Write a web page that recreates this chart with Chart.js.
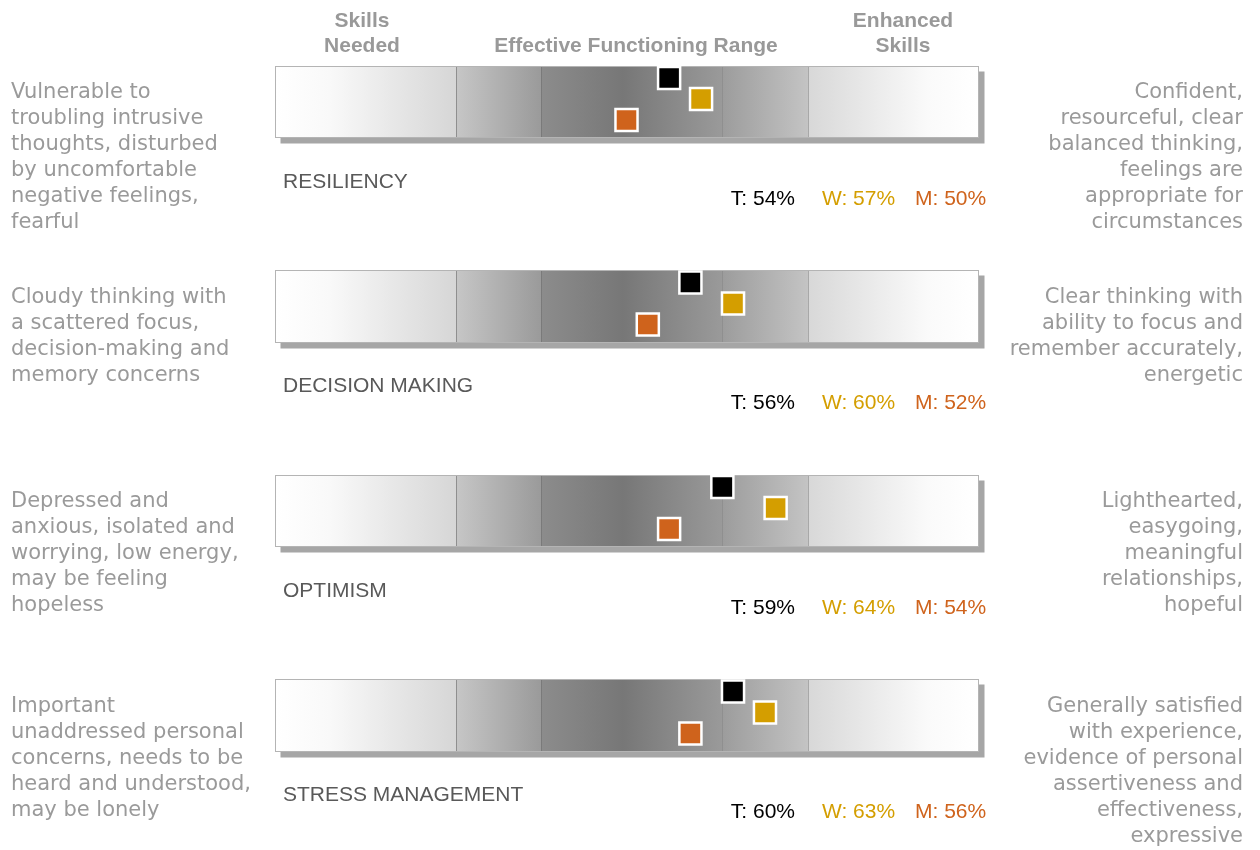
<!DOCTYPE html>
<html>
<head>
<meta charset="utf-8">
<script src="https://cdn.jsdelivr.net/npm/chart.js@4/dist/chart.umd.min.js"></script>
<style>
  html, body { margin: 0; padding: 0; background: #ffffff; }
  #wrap { width: 1260px; height: 850px; position: relative; }
</style>
</head>
<body>
<div id="wrap"><canvas id="chart" width="1260" height="850"></canvas></div>
<script>
// Scales and their scores (percent)
const scaleNames = ['RESILIENCY', 'DECISION MAKING', 'OPTIMISM', 'STRESS MANAGEMENT'];
const tScores = [54, 56, 59, 60];
const wScores = [57, 60, 64, 63];
const mScores = [50, 52, 54, 56];

// Band limits along the score axis
const bandEdges = [17, 34, 42, 59, 67, 83];

// Column headings
const headSkillsNeeded = ['Skills', 'Needed'];
const headRange = ['Effective Functioning Range'];
const headEnhanced = ['Enhanced', 'Skills'];

// Low-end and high-end descriptions for each scale
const lowText = [
  ['Vulnerable to', 'troubling intrusive', 'thoughts, disturbed', 'by uncomfortable', 'negative feelings,', 'fearful'],
  ['Cloudy thinking with', 'a scattered focus,', 'decision-making and', 'memory concerns'],
  ['Depressed and', 'anxious, isolated and', 'worrying, low energy,', 'may be feeling', 'hopeless'],
  ['Important', 'unaddressed personal', 'concerns, needs to be', 'heard and understood,', 'may be lonely']
];
const highText = [
  ['Confident,', 'resourceful, clear', 'balanced thinking,', 'feelings are', 'appropriate for', 'circumstances'],
  ['Clear thinking with', 'ability to focus and', 'remember accurately,', 'energetic'],
  ['Lighthearted,', 'easygoing,', 'meaningful', 'relationships,', 'hopeful'],
  ['Generally satisfied', 'with experience,', 'evidence of personal', 'assertiveness and', 'effectiveness,', 'expressive']
];

const COL_T = '#000000';
const COL_W = '#d49e00';
const COL_M = '#cf631c';

// Vertical layout inside each row (row units)
const BAR_TOP = 0.3227, BAR_BOT = 0.670;
const OFF_T = 0.381, OFF_W = 0.484, OFF_M = 0.587;

const bandStops = [
  [[0, '#ffffff'], [0.3, '#f9f9f9'], [1, '#d6d6d6']],
  [[0, '#c6c6c6'], [1, '#9a9a9a']],
  [[0, '#8c8c8c'], [0.45, '#777777'], [1, '#9a9a9a']],
  [[0, '#9c9c9c'], [1, '#c4c4c4']],
  [[0, '#d8d8d8'], [0.7, '#fafafa'], [1, '#ffffff']]
];
const bandBorder = ['#a8a8a8', '#8f8f8f', '#7a7a7a', '#8f8f8f', '#a8a8a8'];

const bandsPlugin = {
  id: 'bands',
  beforeDatasetsDraw(chart) {
    const { ctx, scales: { x, y } } = chart;
    ctx.save();
    scaleNames.forEach((_, r) => {
      const top = Math.round(y.getPixelForValue(r + BAR_TOP)) + 0.5;
      const bot = Math.round(y.getPixelForValue(r + BAR_BOT)) + 0.5;
      const left = Math.round(x.getPixelForValue(bandEdges[0])) + 0.5;
      const right = Math.round(x.getPixelForValue(bandEdges[bandEdges.length - 1])) + 0.5;
      // drop shadow
      ctx.fillStyle = '#a6a6a6';
      ctx.fillRect(left + 5, top + 5, right - left + 1, bot - top + 1);
      // gradient bands
      for (let i = 0; i < bandEdges.length - 1; i++) {
        const x0 = Math.round(x.getPixelForValue(bandEdges[i])) + 0.5;
        const x1 = Math.round(x.getPixelForValue(bandEdges[i + 1])) + 0.5;
        const g = ctx.createLinearGradient(x0, 0, x1, 0);
        bandStops[i].forEach(s => g.addColorStop(s[0], s[1]));
        ctx.fillStyle = g;
        ctx.fillRect(x0, top, x1 - x0, bot - top);
      }
      for (let i = 0; i < bandEdges.length - 1; i++) {
        const x0 = Math.round(x.getPixelForValue(bandEdges[i])) + 0.5;
        const x1 = Math.round(x.getPixelForValue(bandEdges[i + 1])) + 0.5;
        ctx.strokeStyle = bandBorder[i];
        ctx.lineWidth = 1;
        ctx.strokeRect(x0, top, x1 - x0, bot - top);
      }
      ctx.strokeStyle = '#b4b4b4';
      ctx.strokeRect(left, top, right - left, bot - top);
    });
    ctx.restore();
  }
};

const textPlugin = {
  id: 'texts',
  afterDraw(chart) {
    const { ctx, scales: { x, y } } = chart;
    ctx.save();
    ctx.textBaseline = 'middle';

    // headings
    ctx.fillStyle = '#999999';
    ctx.font = 'bold 21px "Liberation Sans", Arial, sans-serif';
    ctx.textAlign = 'center';
    headSkillsNeeded.forEach((t, i) => ctx.fillText(t, 362, 21 + i * 25));
    headRange.forEach((t) => ctx.fillText(t, 636, 46));
    headEnhanced.forEach((t, i) => ctx.fillText(t, 903, 21 + i * 25));

    scaleNames.forEach((name, r) => {
      const base = y.getPixelForValue(r);
      // descriptions
      ctx.font = '21px "DejaVu Sans", Verdana, sans-serif';
      ctx.fillStyle = '#9a9a9a';
      ctx.textAlign = 'left';
      lowText[r].forEach((t, i) => ctx.fillText(t, 11, base + 93 + i * 26));
      ctx.textAlign = 'right';
      highText[r].forEach((t, i) => ctx.fillText(t, 1243, base + 93 + i * 26));

      // scale name
      ctx.font = '21px "Liberation Sans", Arial, sans-serif';
      ctx.textAlign = 'left';
      ctx.fillStyle = '#595959';
      ctx.fillText(name, 283, base + 182);

      // score labels
      ctx.textAlign = 'right';
      ctx.fillStyle = COL_T;
      ctx.fillText('T: ' + tScores[r] + '%', 795, base + 199);
      ctx.textAlign = 'left';
      ctx.fillStyle = COL_W;
      ctx.fillText('W: ' + wScores[r] + '%', 822, base + 199);
      ctx.fillStyle = COL_M;
      ctx.fillText('M: ' + mScores[r] + '%', 915, base + 199);
    });
    ctx.restore();
  }
};

function markerSet(label, values, offset, color) {
  return {
    label,
    data: values.map((v, r) => ({ x: v, y: r + offset })),
    pointStyle: 'rect',
    pointRadius: 15.6,
    pointHoverRadius: 15.6,
    backgroundColor: color,
    borderColor: '#ffffff',
    borderWidth: 2.5,
    showLine: false
  };
}

new Chart(document.getElementById('chart'), {
  type: 'scatter',
  data: {
    datasets: [
      markerSet('M', mScores, OFF_M, COL_M),
      markerSet('W', wScores, OFF_W, COL_W),
      markerSet('T', tScores, OFF_T, COL_T)
    ]
  },
  options: {
    responsive: false,
    devicePixelRatio: 1,
    animation: false,
    events: [],
    layout: { autoPadding: false, padding: { left: 275, right: 282, top: 0, bottom: 32 } },
    plugins: { legend: { display: false }, tooltip: { enabled: false } },
    scales: {
      x: { type: 'linear', min: bandEdges[0], max: bandEdges[bandEdges.length - 1], display: false },
      y: { type: 'linear', min: 0, max: 4, reverse: true, display: false }
    }
  },
  plugins: [bandsPlugin, textPlugin]
});
</script>
</body>
</html>
